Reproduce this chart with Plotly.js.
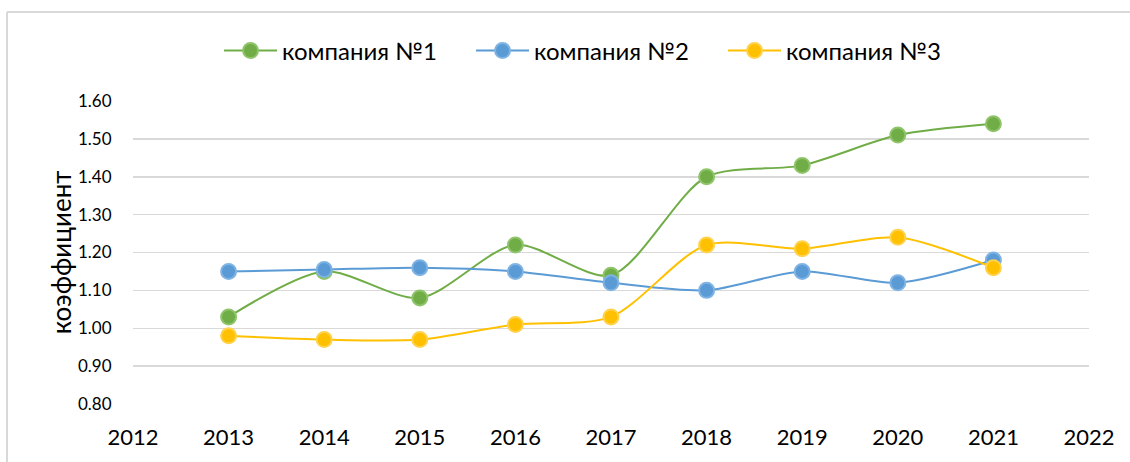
<!DOCTYPE html>
<html><head><meta charset="utf-8">
<script src="https://cdn.plot.ly/plotly-3.0.1.min.js"></script>
<style>html,body{margin:0;padding:0;background:#fff}#chart{width:1130px;height:462px}</style>
</head><body><div id="chart"></div>
<script>
const years = [2013, 2014, 2015, 2016, 2017, 2018, 2019, 2020, 2021];
const company1 = [1.03, 1.15, 1.08, 1.22, 1.14, 1.40, 1.43, 1.51, 1.54];
const company2 = [1.15, 1.155, 1.16, 1.15, 1.12, 1.10, 1.15, 1.12, 1.18];
const company3 = [0.98, 0.97, 0.97, 1.01, 1.03, 1.22, 1.21, 1.24, 1.16];
const names = ['компания №1', 'компания №2', 'компания №3'];
const colors = ['#70ad47', '#5b9bd5', '#ffc000'];
const borders = ['#8fc46a', '#7fb3e3', '#ffd24d'];
const xTicks = [2012, 2013, 2014, 2015, 2016, 2017, 2018, 2019, 2020, 2021, 2022];
const yTicks = [0.8, 0.9, 1.0, 1.1, 1.2, 1.3, 1.4, 1.5, 1.6];
const yTitle = 'коэффициент';

const series = [company1, company2, company3];
const traces = series.map((vals, i) => ({
  x: years, y: vals, name: names[i], type: 'scatter', mode: 'lines+markers',
  line: {color: colors[i], width: 2, shape: 'spline', smoothing: 0.8},
  marker: {color: colors[i], size: 15, line: {color: borders[i], width: 2}}
}));

const font = 'Lato, "Open Sans", sans-serif';
const layout = {
  width: 1130, height: 462,
  margin: {l: 133, r: 41, t: 101, b: 58},
  paper_bgcolor: '#fff', plot_bgcolor: '#fff',
  font: {family: font, color: '#000'},
  showlegend: true,
  legend: {orientation: 'h', x: 0.09, xanchor: 'left', y: 1.165, yanchor: 'middle',
           font: {size: 24, family: font}, itemwidth: 53, tracegroupgap: 0,
           entrywidth: 184, entrywidthmode: 'pixels'},
  xaxis: {range: [2012, 2022], tickvals: xTicks, ticktext: xTicks.map(String),
          showgrid: false, zeroline: false, showline: false,
          ticks: 'outside', ticklen: 14, tickcolor: 'rgba(0,0,0,0)',
          tickfont: {size: 22, family: font}},
  yaxis: {range: [0.8, 1.6], tickvals: yTicks, ticktext: yTicks.map(v => v.toFixed(2)),
          showgrid: true, gridcolor: '#d9d9d9', gridwidth: 1.5, zeroline: false, showline: false,
          ticks: 'outside', ticklen: 17, tickcolor: 'rgba(0,0,0,0)',
          tickfont: {size: 17, family: font}},
  annotations: [
    {text: yTitle, xref: 'paper', yref: 'paper', x: -0.0755, y: 0.5, textangle: -90,
     xanchor: 'center', yanchor: 'middle', showarrow: false, font: {size: 26, family: font, color: '#000'}}
  ],
  shapes: [
    {type: 'line', xref: 'paper', yref: 'paper', x0: -0.1318, x1: 1.1, y0: 1.294, y1: 1.294,
     line: {color: '#d9d9d9', width: 2}},
    {type: 'line', xref: 'paper', yref: 'paper', x0: -0.1318, x1: -0.1318, y0: 1.294, y1: -0.2,
     line: {color: '#d9d9d9', width: 2}}
  ]
};
Plotly.newPlot('chart', traces, layout, {displayModeBar: false, staticPlot: true});
</script></body></html>
